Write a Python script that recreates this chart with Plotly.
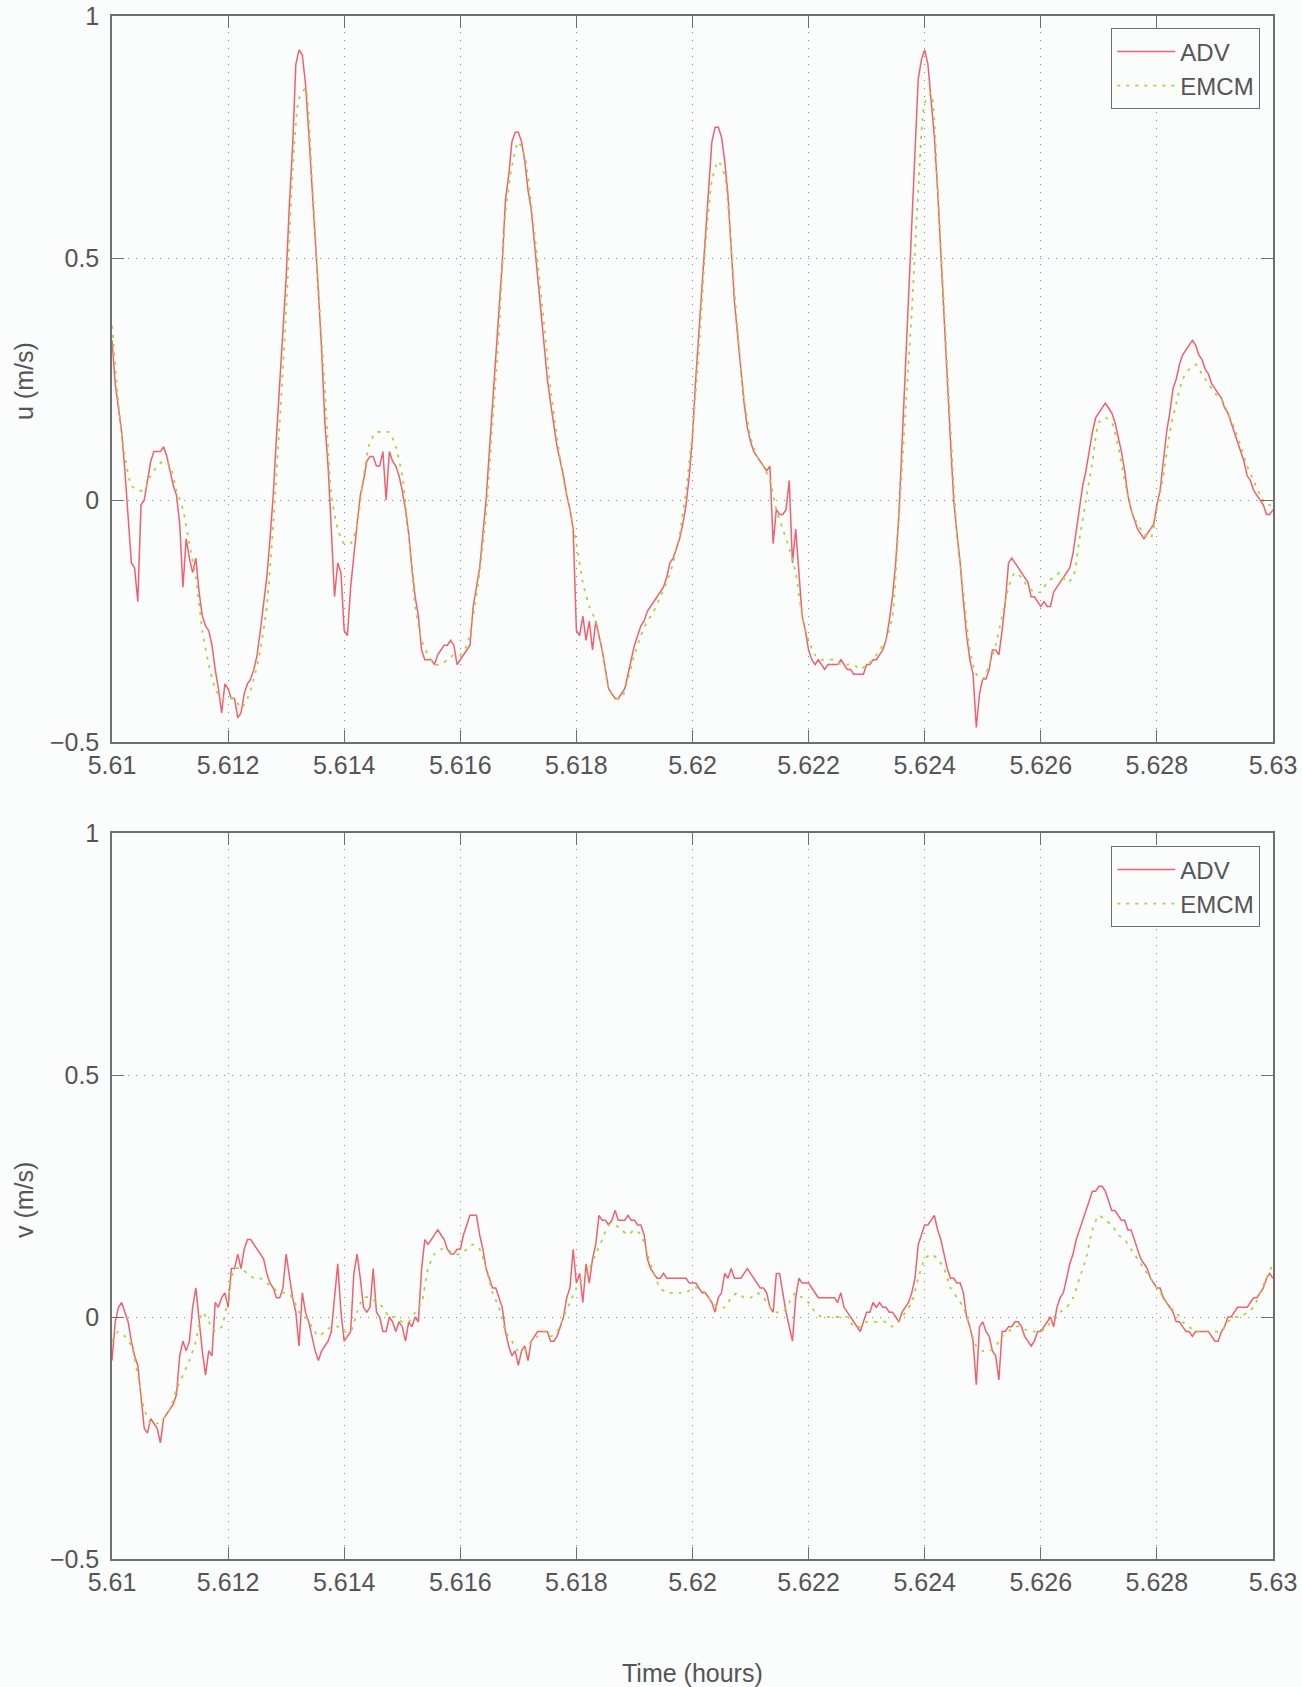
import numpy as np
import plotly.graph_objects as go

# ---------------------------------------------------------------------------
# Velocity records, 5.61 h to 5.63 h.
# ADV sampled every 0.2 s (361 samples), EMCM every 0.4 s (181 samples).
# ---------------------------------------------------------------------------
T_START = 5.61
T_END = 5.63
ADV_DT = (T_END - T_START) / 360
EMCM_DT = 2 * ADV_DT

adv_u = [
    0.33, 0.24, 0.19, 0.14, 0.06, -0.03, -0.13, -0.14, -0.21, -0.01,
    0.00, 0.04, 0.08, 0.10, 0.10, 0.10, 0.11, 0.09, 0.06, 0.03,
    0.01, -0.05, -0.18, -0.08, -0.12, -0.15, -0.12, -0.19, -0.24, -0.26,
    -0.27, -0.30, -0.35, -0.39, -0.44, -0.38, -0.39, -0.41, -0.41, -0.45,
    -0.44, -0.40, -0.38, -0.37, -0.35, -0.32, -0.27, -0.22, -0.16, -0.08,
    0.01, 0.13, 0.24, 0.34, 0.46, 0.61, 0.73, 0.90, 0.93, 0.92,
    0.86, 0.76, 0.66, 0.54, 0.43, 0.31, 0.16, 0.07, -0.06, -0.20,
    -0.13, -0.15, -0.27, -0.28, -0.18, -0.11, -0.05, 0.01, 0.04, 0.08,
    0.09, 0.09, 0.07, 0.07, 0.10, 0.00, 0.10, 0.08, 0.07, 0.05,
    0.02, -0.02, -0.07, -0.14, -0.20, -0.24, -0.31, -0.33, -0.33, -0.33,
    -0.34, -0.32, -0.31, -0.30, -0.30, -0.29, -0.30, -0.34, -0.33, -0.32,
    -0.31, -0.30, -0.22, -0.18, -0.14, -0.07, 0.00, 0.10, 0.20, 0.31,
    0.39, 0.49, 0.62, 0.67, 0.74, 0.76, 0.76, 0.74, 0.70, 0.64,
    0.60, 0.53, 0.46, 0.39, 0.32, 0.25, 0.20, 0.15, 0.11, 0.08,
    0.05, 0.01, -0.02, -0.06, -0.27, -0.28, -0.24, -0.29, -0.25, -0.31,
    -0.25, -0.28, -0.31, -0.35, -0.39, -0.40, -0.41, -0.41, -0.40, -0.39,
    -0.36, -0.33, -0.30, -0.28, -0.26, -0.25, -0.23, -0.22, -0.21, -0.20,
    -0.19, -0.18, -0.16, -0.13, -0.12, -0.10, -0.08, -0.05, -0.01, 0.05,
    0.13, 0.25, 0.35, 0.44, 0.55, 0.66, 0.74, 0.77, 0.77, 0.75,
    0.70, 0.63, 0.52, 0.41, 0.34, 0.27, 0.20, 0.15, 0.12, 0.10,
    0.09, 0.08, 0.07, 0.06, 0.07, -0.09, -0.02, -0.03, -0.03, -0.02,
    0.04, -0.13, -0.06, -0.16, -0.24, -0.27, -0.31, -0.33, -0.34, -0.33,
    -0.34, -0.35, -0.34, -0.34, -0.34, -0.34, -0.33, -0.34, -0.35, -0.35,
    -0.36, -0.36, -0.36, -0.36, -0.34, -0.34, -0.33, -0.33, -0.32, -0.31,
    -0.29, -0.25, -0.20, -0.13, -0.03, 0.12, 0.28, 0.43, 0.58, 0.71,
    0.87, 0.91, 0.93, 0.90, 0.82, 0.75, 0.64, 0.50, 0.38, 0.25,
    0.12, 0.00, -0.07, -0.13, -0.21, -0.28, -0.33, -0.36, -0.47, -0.40,
    -0.37, -0.37, -0.35, -0.31, -0.31, -0.32, -0.27, -0.21, -0.13, -0.12,
    -0.13, -0.14, -0.15, -0.16, -0.17, -0.20, -0.20, -0.21, -0.22, -0.21,
    -0.22, -0.22, -0.19, -0.18, -0.17, -0.16, -0.15, -0.14, -0.11, -0.06,
    -0.02, 0.03, 0.06, 0.10, 0.14, 0.17, 0.18, 0.19, 0.20, 0.19,
    0.18, 0.16, 0.13, 0.10, 0.06, 0.01, -0.02, -0.04, -0.06, -0.07,
    -0.08, -0.07, -0.06, -0.05, -0.01, 0.02, 0.08, 0.14, 0.18, 0.23,
    0.25, 0.28, 0.30, 0.31, 0.32, 0.33, 0.32, 0.30, 0.29, 0.27,
    0.26, 0.24, 0.23, 0.22, 0.21, 0.19, 0.18, 0.16, 0.14, 0.12,
    0.10, 0.08, 0.05, 0.04, 0.02, 0.01, 0.00, -0.01, -0.03, -0.03, -0.02,
]

emcm_u = [
    0.36, 0.20, 0.09, 0.03, 0.02, 0.02, 0.05, 0.07, 0.08, 0.07,
    0.02, -0.02, -0.09, -0.16, -0.27, -0.34, -0.39, -0.41, -0.41, -0.41,
    -0.43, -0.41, -0.37, -0.31, -0.22, -0.05, 0.16, 0.39, 0.68, 0.83,
    0.85, 0.67, 0.44, 0.23, 0.01, -0.06, -0.09, -0.09, -0.05, 0.05,
    0.12, 0.14, 0.14, 0.14, 0.11, 0.05, -0.07, -0.22, -0.29, -0.32,
    -0.34, -0.34, -0.33, -0.32, -0.32, -0.30, -0.24, -0.15, -0.03, 0.16,
    0.35, 0.59, 0.69, 0.74, 0.71, 0.61, 0.49, 0.36, 0.23, 0.13,
    0.04, -0.02, -0.09, -0.17, -0.22, -0.25, -0.31, -0.39, -0.41, -0.41,
    -0.37, -0.32, -0.28, -0.25, -0.23, -0.20, -0.17, -0.13, -0.07, 0.02,
    0.14, 0.31, 0.52, 0.66, 0.70, 0.67, 0.52, 0.35, 0.21, 0.13,
    0.09, 0.07, 0.04, -0.02, -0.06, -0.10, -0.15, -0.24, -0.29, -0.32,
    -0.33, -0.33, -0.33, -0.34, -0.34, -0.34, -0.35, -0.34, -0.33, -0.31,
    -0.29, -0.24, -0.04, 0.18, 0.39, 0.64, 0.82, 0.84, 0.65, 0.40,
    0.15, -0.07, -0.19, -0.31, -0.36, -0.37, -0.34, -0.30, -0.24, -0.18,
    -0.15, -0.16, -0.18, -0.19, -0.19, -0.17, -0.16, -0.15, -0.17, -0.16,
    -0.08, 0.00, 0.08, 0.16, 0.17, 0.16, 0.11, 0.04, -0.02, -0.05,
    -0.07, -0.08, -0.02, 0.05, 0.14, 0.20, 0.25, 0.27, 0.28, 0.26,
    0.24, 0.22, 0.21, 0.18, 0.15, 0.11, 0.07, 0.04, 0.01, -0.01, -0.01,
]

adv_v = [
    -0.09, -0.01, 0.02, 0.03, 0.01, -0.01, -0.05, -0.08, -0.10, -0.17,
    -0.23, -0.24, -0.21, -0.22, -0.23, -0.26, -0.21, -0.20, -0.19, -0.18,
    -0.16, -0.08, -0.05, -0.07, -0.05, 0.02, 0.06, -0.01, -0.07, -0.12,
    -0.07, -0.08, 0.03, 0.02, 0.04, 0.05, 0.02, 0.10, 0.10, 0.13,
    0.10, 0.14, 0.16, 0.16, 0.15, 0.14, 0.13, 0.12, 0.09, 0.07,
    0.06, 0.04, 0.04, 0.06, 0.13, 0.08, 0.04, 0.01, -0.06, 0.05,
    0.01, -0.01, -0.04, -0.07, -0.09, -0.07, -0.06, -0.05, -0.03, 0.04,
    0.11, 0.01, -0.05, -0.04, -0.03, 0.09, 0.13, 0.08, 0.02, 0.01,
    0.02, 0.10, 0.01, 0.00, -0.03, -0.03, 0.00, -0.01, -0.03, -0.01,
    -0.02, -0.05, -0.01, -0.02, 0.00, -0.01, 0.10, 0.16, 0.15, 0.16,
    0.17, 0.18, 0.17, 0.16, 0.14, 0.13, 0.13, 0.14, 0.14, 0.17,
    0.19, 0.21, 0.21, 0.21, 0.17, 0.14, 0.10, 0.08, 0.06, 0.06,
    0.04, 0.02, -0.03, -0.06, -0.08, -0.07, -0.10, -0.07, -0.06, -0.09,
    -0.05, -0.04, -0.03, -0.03, -0.03, -0.03, -0.05, -0.05, -0.04, -0.02,
    0.00, 0.04, 0.06, 0.14, 0.07, 0.09, 0.03, 0.11, 0.07, 0.12,
    0.15, 0.21, 0.20, 0.20, 0.19, 0.20, 0.22, 0.20, 0.20, 0.20,
    0.21, 0.20, 0.20, 0.19, 0.19, 0.17, 0.12, 0.10, 0.09, 0.08,
    0.08, 0.09, 0.08, 0.08, 0.08, 0.08, 0.08, 0.08, 0.08, 0.07,
    0.07, 0.07, 0.06, 0.05, 0.05, 0.04, 0.03, 0.01, 0.04, 0.05,
    0.09, 0.08, 0.10, 0.08, 0.08, 0.08, 0.09, 0.10, 0.09, 0.08,
    0.07, 0.06, 0.06, 0.05, 0.02, 0.01, 0.09, 0.09, 0.05, 0.01,
    -0.02, -0.05, 0.04, 0.08, 0.07, 0.07, 0.07, 0.06, 0.05, 0.04,
    0.04, 0.04, 0.04, 0.04, 0.04, 0.03, 0.05, 0.02, 0.01, 0.00,
    -0.01, -0.02, -0.03, -0.01, 0.01, 0.01, 0.03, 0.02, 0.03, 0.02,
    0.02, 0.01, 0.01, 0.00, -0.01, 0.01, 0.02, 0.03, 0.05, 0.08,
    0.15, 0.17, 0.19, 0.19, 0.20, 0.21, 0.18, 0.16, 0.13, 0.10,
    0.08, 0.08, 0.07, 0.07, 0.05, 0.00, -0.02, -0.05, -0.14, -0.02,
    -0.01, -0.03, -0.04, -0.07, -0.08, -0.13, -0.03, -0.03, -0.02, -0.02,
    -0.01, -0.01, -0.02, -0.04, -0.05, -0.06, -0.05, -0.03, -0.03, -0.02,
    -0.01, 0.00, -0.02, 0.02, 0.04, 0.05, 0.08, 0.11, 0.13, 0.16,
    0.18, 0.20, 0.22, 0.24, 0.26, 0.26, 0.27, 0.27, 0.26, 0.24,
    0.22, 0.22, 0.21, 0.20, 0.20, 0.18, 0.18, 0.16, 0.14, 0.12,
    0.11, 0.10, 0.08, 0.07, 0.06, 0.06, 0.04, 0.03, 0.02, 0.01,
    -0.01, -0.01, -0.02, -0.03, -0.03, -0.04, -0.03, -0.03, -0.03, -0.03,
    -0.03, -0.04, -0.05, -0.05, -0.03, -0.02, 0.00, 0.00, 0.01, 0.02,
    0.02, 0.02, 0.02, 0.03, 0.04, 0.04, 0.05, 0.06, 0.08, 0.09, 0.08,
]

emcm_v = [
    -0.05, -0.03, -0.04, -0.06, -0.12, -0.19, -0.22, -0.22, -0.21, -0.19,
    -0.15, -0.12, -0.09, -0.05, 0.01, -0.01, -0.03, -0.02, 0.04, 0.10,
    0.10, 0.09, 0.08, 0.08, 0.07, 0.06, 0.05, 0.05, 0.04, 0.01,
    0.00, -0.02, -0.04, -0.03, -0.02, -0.02, -0.03, -0.03, 0.01, 0.04,
    0.04, 0.03, 0.02, 0.00, 0.00, -0.01, -0.01, 0.01, 0.03, 0.10,
    0.13, 0.14, 0.14, 0.13, 0.13, 0.14, 0.15, 0.14, 0.10, 0.05,
    0.02, -0.03, -0.05, -0.07, -0.07, -0.05, -0.04, -0.03, -0.04, -0.03,
    0.00, 0.03, 0.06, 0.08, 0.10, 0.13, 0.16, 0.19, 0.19, 0.18,
    0.17, 0.18, 0.17, 0.13, 0.09, 0.06, 0.05, 0.05, 0.05, 0.05,
    0.06, 0.06, 0.05, 0.03, 0.02, 0.02, 0.04, 0.05, 0.04, 0.04,
    0.05, 0.04, 0.02, 0.01, 0.01, 0.03, 0.05, 0.04, 0.03, 0.01,
    0.00, 0.00, 0.00, 0.00, 0.00, -0.02, -0.02, -0.01, -0.01, -0.01,
    -0.01, -0.02, -0.01, 0.01, 0.03, 0.08, 0.12, 0.13, 0.12, 0.10,
    0.06, 0.04, 0.02, -0.02, -0.06, -0.07, -0.07, -0.06, -0.04, -0.03,
    -0.02, -0.02, -0.03, -0.03, -0.03, -0.02, 0.00, 0.01, 0.02, 0.04,
    0.08, 0.12, 0.18, 0.21, 0.20, 0.19, 0.17, 0.16, 0.14, 0.12,
    0.10, 0.08, 0.06, 0.04, 0.02, 0.01, -0.01, -0.02, -0.03, -0.03,
    -0.03, -0.03, -0.03, -0.01, 0.00, 0.00, 0.01, 0.02, 0.05, 0.08, 0.11,
]

t_adv = T_START + ADV_DT * np.arange(len(adv_u))
t_emcm = T_START + EMCM_DT * np.arange(len(emcm_u))

x_tickvals = [5.61, 5.612, 5.614, 5.616, 5.618, 5.62, 5.622, 5.624, 5.626, 5.628, 5.63]
x_ticktext = ["5.61", "5.612", "5.614", "5.616", "5.618", "5.62", "5.622",
              "5.624", "5.626", "5.628", "5.63"]
y_tickvals = [-0.5, 0, 0.5, 1]
y_ticktext = ["\u22120.5", "0", "0.5", "1"]

# ---------------------------------------------------------------------------
# Styling
# ---------------------------------------------------------------------------
W, H = 1302, 1687
BG = "#fbfcfc"
AXIS_COLOR = "#6e6e6e"
TEXT_COLOR = "#555555"
GRID_COLOR = "#8a8a8a"
ADV_COLOR = "#f2606f"
EMCM_COLOR = "#a9d63f"
FONT = "Liberation Sans, Arial, Helvetica, sans-serif"
FS = 25

x0, x1 = 112 / W, 1273 / W
top_dom = [1 - 742 / H, 1 - 16 / H]
bot_dom = [1 - 1559 / H, 1 - 833 / H]

fig = go.Figure()

for xa, ya, adv, emcm, lg in (("x", "y", adv_u, emcm_u, "legend"),
                              ("x2", "y2", adv_v, emcm_v, "legend2")):
    fig.add_trace(go.Scatter(
        x=t_adv, y=adv, xaxis=xa, yaxis=ya, mode="lines", name="ADV",
        line=dict(color=ADV_COLOR, width=1.5), legend=lg,
    ))
    fig.add_trace(go.Scatter(
        x=t_emcm, y=emcm, xaxis=xa, yaxis=ya, mode="lines", name="EMCM",
        line=dict(color=EMCM_COLOR, width=1.8, dash="3px,6px", shape="spline",
                  smoothing=0.6),
        legend=lg,
    ))

axis_common = dict(
    showline=True, linecolor=AXIS_COLOR, linewidth=1.5, mirror="ticks",
    ticks="inside", ticklen=12, tickwidth=1.3, tickcolor=AXIS_COLOR,
    showgrid=True, gridcolor=GRID_COLOR, gridwidth=1, griddash="1px,7px",
    zeroline=False, automargin=False,
    tickfont=dict(family=FONT, size=FS, color=TEXT_COLOR),
)

xaxis_common = dict(axis_common, range=[T_START, T_END], tickvals=x_tickvals,
                    ticktext=x_ticktext, domain=[x0, x1], ticklabelstandoff=0)
yaxis_common = dict(axis_common, range=[-0.5, 1], tickvals=y_tickvals,
                    ticktext=y_ticktext, ticklabelstandoff=6)

legend_common = dict(
    font=dict(family=FONT, size=24, color=TEXT_COLOR),
    bgcolor=BG, bordercolor=AXIS_COLOR, borderwidth=1.3,
    xanchor="right", yanchor="top", x=1260 / W,
    itemwidth=58, tracegroupgap=0, traceorder="normal",
)

label_font = dict(family=FONT, size=FS, color=TEXT_COLOR)

fig.update_layout(
    width=W, height=H,
    margin=dict(l=0, r=0, t=0, b=0, autoexpand=False),
    paper_bgcolor=BG, plot_bgcolor=BG,
    showlegend=True,
    xaxis=dict(xaxis_common, anchor="y"),
    yaxis=dict(yaxis_common, domain=top_dom, anchor="x"),
    xaxis2=dict(xaxis_common, anchor="y2"),
    yaxis2=dict(yaxis_common, domain=bot_dom, anchor="x2"),
    legend=dict(legend_common, y=1 - 28 / H),
    legend2=dict(legend_common, y=1 - 846 / H),
    annotations=[
        dict(text="u (m/s)", x=24 / W, y=1 - 381 / H, xref="paper", yref="paper",
             xanchor="center", yanchor="middle", textangle=-90,
             showarrow=False, font=label_font),
        dict(text="v (m/s)", x=24 / W, y=1 - 1200 / H, xref="paper", yref="paper",
             xanchor="center", yanchor="middle", textangle=-90,
             showarrow=False, font=label_font),
        dict(text="Time (hours)", x=(x0 + x1) / 2, y=1 - 1673 / H,
             xref="paper", yref="paper", xanchor="center", yanchor="middle",
             showarrow=False, font=label_font),
    ],
)

fig.write_html("out.html")
